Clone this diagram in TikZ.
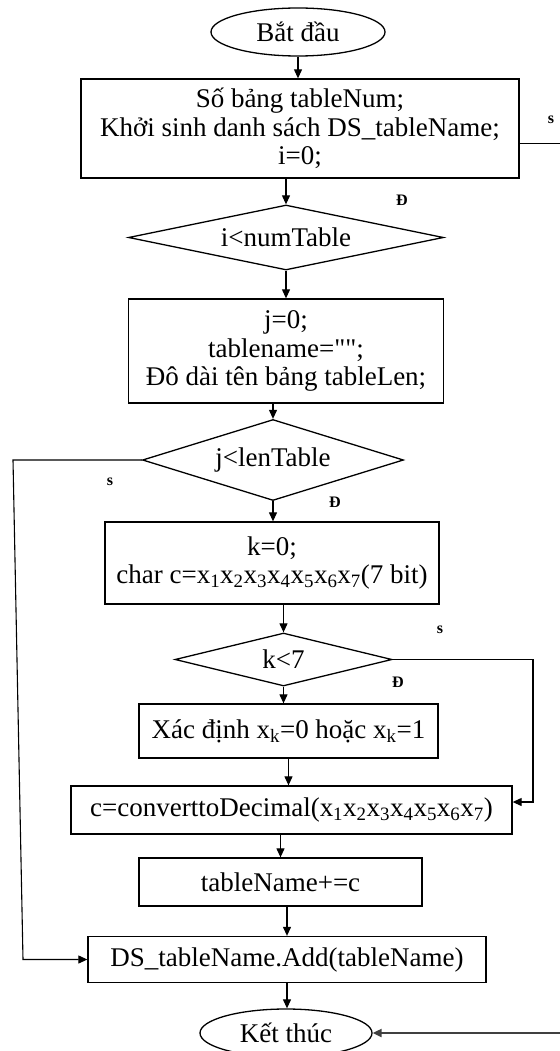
\documentclass[tikz,border=0pt]{standalone}
\usepackage{fontspec}
\setmainfont{Liberation Serif}
\usetikzlibrary{shapes.geometric,arrows.meta}

\begin{document}
\begin{tikzpicture}[
	x=1pt, y=-1pt,
	>={Triangle[length=9pt,width=8pt]},
	flow line/.style={line width=1.1pt},
	back line/.style={line width=2pt, draw=black!75},
	proc box/.style={draw, line width=1.3pt, rectangle, align=center, inner sep=0pt, font=\fontsize{27}{28.6}\selectfont},
	test node/.style={draw, line width=1.3pt, diamond, inner sep=0pt, font=\fontsize{27}{28.6}\selectfont},
	term node/.style={draw, line width=1.3pt, ellipse, inner sep=0pt, font=\fontsize{27}{28.6}\selectfont},
	label node/.style={font=\fontsize{16}{16}\selectfont\bfseries}
	]
	\newcommand{\xb}[1]{x\textsubscript{#1}}
	\useasboundingbox (0,0) rectangle (559,1051);
	
	\node[term node, minimum width=174pt, minimum height=48pt] (start) at (298,32) {Bắt đầu};
	\node[proc box, minimum width=438pt, minimum height=99pt] (box1) at (300,128.5)
		{Số bảng tableNum;\\ Khởi sinh danh sách DS\_tableName;\\ i=0;};
	\node[test node, aspect=4.85, minimum width=315pt, minimum height=65pt] (d1) at (286,237.5) {i<numTable};
	\node[proc box, minimum width=315pt, minimum height=104pt] (box2) at (286,351)
		{j=0;\\ tablename=\textquotedbl\textquotedbl;\\ Đô dài tên bảng tableLen;};
	\node[test node, aspect=3.2, minimum width=261pt, minimum height=81pt] (d2) at (273,460) {j<lenTable};
	\node[proc box, minimum width=334pt, minimum height=82pt] (box3) at (272,563)
		{k=0;\\ char c=\xb{1}\xb{2}\xb{3}\xb{4}\xb{5}\xb{6}\xb{7}(7 bit)};
	\node[test node, aspect=4.1, minimum width=217pt, minimum height=53pt] (d3) at (283.5,659.5) {k<7};
	\node[proc box, minimum width=299pt, minimum height=54pt] (box4) at (288.5,731)
		{Xác định \xb{k}=0 hoặc \xb{k}=1};
	\node[proc box, minimum width=441pt, minimum height=48pt] (box5) at (291.5,810)
		{c=converttoDecimal(\xb{1}\xb{2}\xb{3}\xb{4}\xb{5}\xb{6}\xb{7})};
	\node[proc box, minimum width=283pt, minimum height=48pt] (box6) at (280.5,882) {tableName+=c};
	\node[proc box, minimum width=398pt, minimum height=46pt] (box7) at (287,959.5)
		{DS\_tableName.Add(tableName)};
	\node[term node, minimum width=172pt, minimum height=48pt] (end) at (286,1033) {Kết thúc};
	
	% nhãn nhánh
	\node[label node] (s1) at (551,120) {s};
	\node[label node] (t1) at (402,200) {Đ};
	\node[label node] (s2) at (110,482) {s};
	\node[label node] (t2) at (335,502) {Đ};
	\node[label node] (s3) at (440,630) {s};
	\node[label node] (t3) at (398,682) {Đ};
	
	\draw[flow line,->] (start.south) -- (start.south |- box1.north);
	\draw[flow line,->] (box1.south -| d1.north) -- (d1.north);
	\draw[flow line,->] (d1.south) -- (d1.south |- box2.north);
	\draw[flow line,->] (box2.south -| d2.north) -- (d2.north);
	\draw[flow line,->] (d2.south) -- (d2.south |- box3.north);
	\draw[flow line,->] (box3.south -| d3.north) -- (d3.north);
	\draw[flow line,->] (d3.south) -- (d3.south |- box4.north);
	\draw[flow line,->] (box4.south) -- (box4.south |- box5.north);
	\draw[flow line,->] (box5.south -| box6.north) -- (box6.north);
	\draw[flow line,->] (box6.south -| box7.north) -- (box7.north);
	\draw[flow line,->] (box7.south) -- (box7.south |- end.north);
	
	% vòng lặp
	\coordinate (lt) at (13,460);
	\coordinate (lb) at (23,959.5);
	\draw[flow line,->] (d2.west) -- (lt) -- (lb) -- (box7.west);
	\coordinate (rt) at (533,659.5);
	\coordinate (rb) at (533,802);
	\draw[flow line,->] (d3.east) -- (rt) -- (rb) -- ([yshift=8pt]box5.east);
	\draw[flow line] ([yshift=-15pt]box1.east) -- ++(50,0) coordinate (r1);
	\draw[back line,->] (r1) |- (end.east);
\end{tikzpicture}
\end{document}
